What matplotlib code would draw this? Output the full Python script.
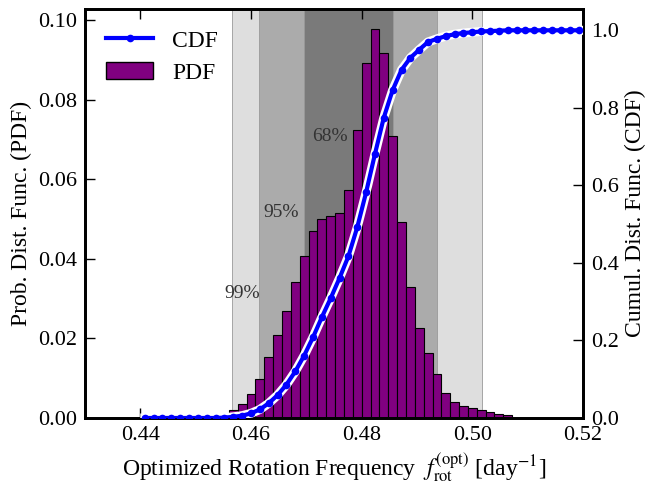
import numpy as np
import matplotlib
matplotlib.use("Agg")
import matplotlib.pyplot as plt
from matplotlib.patches import Patch
from matplotlib.lines import Line2D

plt.rcParams["font.family"] = ["Liberation Serif", "DejaVu Serif"]
plt.rcParams["mathtext.fontset"] = "stix"

# 50 bins from 0.44 to 0.52
bin_edges = np.linspace(0.44, 0.52, 51)

# probability per bin (PDF)
pdf = [0.0, 0.0, 0.0, 0.0, 0.0, 0.0, 0.0, 0.0, 0.0, 0.0,
       0.0019, 0.0034, 0.0061, 0.0099, 0.0154, 0.0208, 0.0268, 0.0341, 0.0407, 0.0471,
       0.0500, 0.0508, 0.0516, 0.0572, 0.0723, 0.0891, 0.0978, 0.0917, 0.0709, 0.0492,
       0.0328, 0.0226, 0.0163, 0.0110, 0.0064, 0.0041, 0.0030, 0.0024, 0.0020, 0.0015,
       0.0011, 0.0007, 0.0, 0.0, 0.0, 0.0, 0.0, 0.0, 0.0, 0.0]

# cumulative distribution at bin centres
cdf = [0.0, 0.0, 0.0, 0.0, 0.0, 0.0, 0.0, 0.0, 0.0, 0.001,
       0.003, 0.006, 0.012, 0.022, 0.038, 0.059, 0.086, 0.120, 0.161, 0.208,
       0.260, 0.309, 0.361, 0.417, 0.492, 0.582, 0.681, 0.775, 0.846, 0.898,
       0.929, 0.950, 0.970, 0.978, 0.985, 0.990, 0.993, 0.995, 0.997, 0.998,
       0.999, 1.0, 1.0, 1.0, 1.0, 1.0, 1.0, 1.0, 1.0, 1.0]

# credible intervals (lower, upper)
intervals = {"99%": (0.4566, 0.5018), "95%": (0.4614, 0.4937), "68%": (0.4696, 0.4857)}
interval_colors = {"99%": "#dedede", "95%": "#ababab", "68%": "#7a7a7a"}
interval_label_pos = {"99%": (0.4584, 0.0312), "95%": (0.4655, 0.0517), "68%": (0.4743, 0.0708)}

centers = 0.5 * (bin_edges[:-1] + bin_edges[1:])
widths = np.diff(bin_edges)

fig = plt.figure(figsize=(6.46, 4.83), dpi=100)
ax = fig.add_axes([0.1316, 0.1346, 0.7709, 0.8468])

for key in ["99%", "95%", "68%"]:
    lo, hi = intervals[key]
    ax.axvspan(lo, hi, facecolor=interval_colors[key], edgecolor="#9a9a9a",
               linewidth=0.6, zorder=0)
    tx, ty = interval_label_pos[key]
    ax.text(tx, ty, key, fontsize=14, color="#333333", ha="center", va="center",
            zorder=1)

ax.bar(bin_edges[:-1], pdf, width=widths, align="edge", color="purple",
       edgecolor="black", linewidth=0.8, zorder=2)

ax.set_xlim(0.43, 0.52)
ax.set_ylim(0, 0.1028)
ax.set_xticks([0.44, 0.46, 0.48, 0.50, 0.52])
ax.set_xticklabels(["0.44", "0.46", "0.48", "0.50", "0.52"])
ax.set_yticks([0.0, 0.02, 0.04, 0.06, 0.08, 0.10])
ax.set_yticklabels(["0.00", "0.02", "0.04", "0.06", "0.08", "0.10"])
ax.tick_params(direction="in", length=7, width=1, labelsize=16, top=True,
               right=False, pad=6)
ax.set_xlabel(r"Optimized Rotation Frequency  $f_{\mathrm{rot}}^{(\mathrm{opt})}$ [day$^{-1}$]",
              fontsize=17)
ax.set_ylabel("Prob. Dist. Func. (PDF)", fontsize=17)
for s in ax.spines.values():
    s.set_linewidth(2)

ax2 = ax.twinx()
# white halo under the CDF line
ax2.plot(centers, cdf, color="white", linewidth=6.5, zorder=3)
ax2.plot(centers, cdf, color="blue", linewidth=3, marker="o", markersize=5.5,
         markeredgewidth=0, zorder=4)
ax2.set_ylim(0, 1.055)
ax2.set_yticks([0.0, 0.2, 0.4, 0.6, 0.8, 1.0])
ax2.set_yticklabels(["0.0", "0.2", "0.4", "0.6", "0.8", "1.0"])
ax2.tick_params(direction="in", length=7, width=1, labelsize=16, pad=6)
ax2.set_ylabel("Cumul. Dist. Func. (CDF)", fontsize=17)
for s in ax2.spines.values():
    s.set_linewidth(2)

handles = [Line2D([], [], color="blue", linewidth=3, marker="o", markersize=5.5,
                  markeredgewidth=0),
           Patch(facecolor="purple", edgecolor="black")]
ax.legend(handles, ["CDF", "PDF"], loc="upper left", frameon=False, fontsize=17,
          handlelength=2.0, handletextpad=0.8, borderaxespad=0.5, labelspacing=0.45)

fig.savefig("out.png", dpi=100)
